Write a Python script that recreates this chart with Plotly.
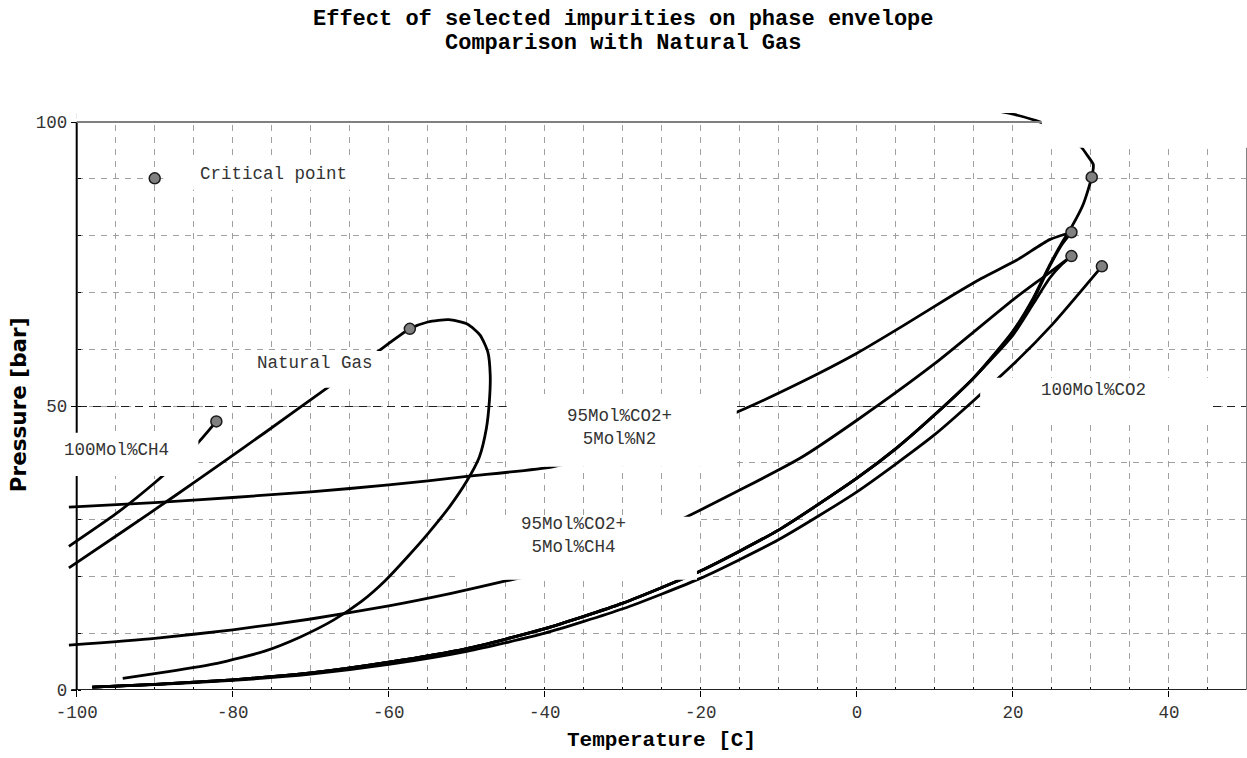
import plotly.graph_objects as go

# ---------------- data ----------------
# Natural gas phase envelope (bubble line -> critical region -> dew line)
ng_T = [-94.1, -88.5, -82.0, -76.0, -71.4, -67.1, -63.5, -60.5, -57.5, -55.0, -52.2, -50.0, -48.4,
        -47.5, -47.1, -47.0, -47.3, -48.3, -49.9, -52.3, -55.0, -57.3,
        -62.0, -68.2, -75.9, -82.1, -87.4, -94.0, -101.0]
ng_P = [2.06, 3.2, 4.7, 6.8, 9.3, 12.3, 15.6, 19.2, 23.6, 27.5, 32.3, 36.8, 41.0,
        46.0, 51.0, 55.5, 59.5, 62.5, 64.4, 65.2, 64.8, 63.6,
        59.0, 52.9, 45.3, 39.3, 34.2, 28.0, 21.5]

# Pure methane vapour pressure curve
ch4_T = [-101.0, -95.0, -90.0, -85.0, -82.1]
ch4_P = [25.3, 31.0, 36.5, 42.7, 47.3]

# Pure CO2 vapour pressure curve
co2_T = [-98.0, -90.0, -80.0, -70.0, -60.0, -50.0, -40.0, -30.0, -20.0, -10.0, 0.0, 10.0, 20.0, 25.0, 31.4]
co2_P = [0.5, 0.95, 1.7, 2.8, 4.5, 6.8, 10.0, 14.3, 19.7, 26.5, 34.9, 45.0, 57.3, 64.3, 74.6]

# 95 mol% CO2 + 5 mol% N2
n2_bub_T = [-101.0, -90.0, -80.0, -70.0, -60.0, -50.0, -39.0, -30.0, -22.0, -15.6, -7.3, 0.0, 6.0, 11.9, 16.0, 20.5, 24.7, 27.5]
n2_bub_P = [32.2, 33.0, 33.9, 34.9, 36.1, 37.6, 39.3, 42.3, 45.5, 48.8, 54.1, 59.3, 64.2, 69.2, 72.5, 75.7, 79.3, 80.6]
n2_dew_T = [-98.0, -90.0, -80.0, -70.0, -60.0, -50.0, -40.0, -30.0, -20.0, -10.0, 0.0, 5.0, 10.0, 15.0, 20.0, 22.6, 24.7, 26.3, 27.5]
n2_dew_P = [0.5, 1.0, 1.8, 3.0, 4.9, 7.3, 10.8, 15.3, 21.0, 28.2, 37.3, 42.5, 48.5, 55.0, 63.0, 68.7, 74.6, 78.5, 80.6]

# 95 mol% CO2 + 5 mol% CH4
c4_bub_T = [-101.0, -90.0, -80.0, -70.0, -60.0, -52.0, -45.0, -42.3, -35.0, -28.0, -21.8, -7.3, 0.0, 10.0, 20.0, 24.0, 27.5]
c4_bub_P = [7.9, 9.1, 10.6, 12.5, 14.8, 17.0, 19.2, 20.0, 22.8, 26.5, 30.5, 40.8, 47.5, 57.5, 68.7, 72.8, 76.4]
c4_dew_T = [-98.0, -90.0, -80.0, -70.0, -60.0, -50.0, -40.0, -30.0, -20.0, -10.0, 0.0, 5.0, 10.0, 15.0, 20.0, 22.6, 24.7, 26.3, 27.5]
c4_dew_P = [0.5, 1.0, 1.8, 3.0, 4.9, 7.3, 10.8, 15.3, 21.0, 28.2, 37.3, 42.5, 48.5, 55.0, 62.5, 68.0, 72.5, 75.0, 76.4]

# 95 mol% CO2 + 5 mol% H2 (dew line up to the critical point and beyond the 100 bar frame)
h2_T = [-98.0, -90.0, -80.0, -70.0, -60.0, -50.0, -40.0, -30.0, -20.0, -10.0, 0.0, 5.0, 10.0, 15.0, 20.0, 22.6,
        24.7, 26.3, 27.5, 29.0, 30.1, 30.3, 29.6, 28.8, 26.0, 23.7, 20.3, 17.0, 14.0]
h2_P = [0.5, 1.0, 1.8, 3.0, 4.9, 7.3, 10.8, 15.3, 21.0, 28.2, 37.3, 42.5, 48.5, 55.0, 63.2, 69.0,
        74.8, 78.8, 81.5, 85.5, 90.3, 92.5, 94.0, 95.5, 98.5, 99.9, 101.3, 102.2, 102.8]

# Critical points (first one is the legend sample next to "Critical point")
crit_T = [-90.0, -82.1, -57.3, 27.5, 27.5, 30.1, 31.4]
crit_P = [90.1, 47.3, 63.6, 80.6, 76.4, 90.3, 74.6]

# Axis ticks
x_tick_vals = [-100, -80, -60, -40, -20, 0, 20, 40]
x_tick_text = ["-100", "-80", "-60", "-40", "-20", "0", "20", "40"]
y_tick_vals = [0, 50, 100]
y_tick_text = ["0", "50", "100"]

# Labels
title_lines = ["Effect of selected impurities on phase envelope", "Comparison with Natural Gas"]
x_title = "Temperature [C]"
y_title = "Pressure [bar]"
label_text = ["Critical point", "Natural Gas", "100Mol%CH4", "95Mol%CO2+<br>5Mol%N2",
              "95Mol%CO2+<br>5Mol%CH4", "100Mol%CO2", "95Mol%CO2+<br>5Mol%H2"]

# ---------------- layout geometry ----------------
W_FIG, H_FIG = 1247, 758
X_RANGE = [-101.5, 50]          # a little room left of -100 so curves can start at -101
Y_RANGE = [0, 101.6]            # a little room above 100 for the H2 envelope arc
M_L, M_R, M_T, M_B = 65.3, 0, 113, 68
PW = W_FIG - M_L - M_R
PH = H_FIG - M_T - M_B


def px_to_paper(px, py):
    return (px - M_L) / PW, (H_FIG - M_B - py) / PH


MONO = "Liberation Mono"
LINE = dict(color="black", width=2.8)

fig = go.Figure()
curves = [(ng_T, ng_P), (ch4_T, ch4_P), (n2_bub_T, n2_bub_P), (n2_dew_T, n2_dew_P),
          (c4_bub_T, c4_bub_P), (c4_dew_T, c4_dew_P), (h2_T, h2_P), (co2_T, co2_P)]
for T, P in curves:
    fig.add_trace(go.Scatter(x=T, y=P, mode="lines", line=dict(shape="spline", smoothing=0.6, **LINE),
                             showlegend=False, hoverinfo="skip"))

fig.add_trace(go.Scatter(x=crit_T, y=crit_P, mode="markers", cliponaxis=False, showlegend=False,
                         marker=dict(size=11, color="#808080", line=dict(color="#1a1a1a", width=1.5))))

grid_dash = "6px,6px"
y_axis_pos = (-100 - X_RANGE[0]) / (X_RANGE[1] - X_RANGE[0])
fig.update_layout(
    width=W_FIG, height=H_FIG,
    margin=dict(l=M_L, r=M_R, t=M_T, b=M_B),
    paper_bgcolor="white", plot_bgcolor="white",
    font=dict(family=MONO, size=17.5, color="#333333"),
    xaxis=dict(range=X_RANGE, tickmode="array", tickvals=x_tick_vals, ticktext=x_tick_text,
               ticks="outside", ticklen=6, tickcolor="black", tickwidth=1,
               showline=False, zeroline=False,
               showgrid=True, gridcolor="#a0a0a0", gridwidth=1, griddash=grid_dash,
               minor=dict(tick0=-100, dtick=5, ticks="inside", ticklen=3, tickcolor="black",
                          showgrid=True, gridcolor="#a0a0a0", gridwidth=1, griddash=grid_dash),
               tickfont=dict(family=MONO, size=17.5, color="#333333")),
    yaxis=dict(range=Y_RANGE, anchor="free", position=y_axis_pos,
               tickmode="array", tickvals=y_tick_vals, ticktext=y_tick_text,
               ticks="outside", ticklen=6, tickcolor="black", tickwidth=1,
               showline=False, zeroline=False,
               showgrid=True, gridcolor="#202020", gridwidth=1, griddash="8px,6px",
               minor=dict(tick0=0, dtick=10, ticks="inside", ticklen=3, tickcolor="black",
                          showgrid=True, gridcolor="#a0a0a0", gridwidth=1, griddash=grid_dash),
               tickfont=dict(family=MONO, size=17.5, color="#333333")),
)

# hide grid lines outside the -100..50 / 0..100 frame (drawn under the curves)
fig.add_shape(type="rect", xref="x", yref="y", x0=X_RANGE[0], x1=-100, y0=0, y1=Y_RANGE[1],
              fillcolor="white", line=dict(width=0), layer="between")
fig.add_shape(type="rect", xref="x", yref="y", x0=-100, x1=50, y0=100, y1=Y_RANGE[1],
              fillcolor="white", line=dict(width=0), layer="between")

# frame: black left/bottom axes, grey top/right
fig.add_shape(type="line", xref="x", yref="y", x0=-100.7, x1=50, y0=0, y1=0,
              line=dict(color="#222222", width=2), layer="above")
fig.add_shape(type="line", xref="x", yref="y", x0=-100, x1=-100, y0=0, y1=100,
              line=dict(color="black", width=2), layer="above")
fig.add_shape(type="line", xref="x", yref="y", x0=-100, x1=50, y0=100, y1=100,
              line=dict(color="#808080", width=2), layer="above")
fig.add_shape(type="line", xref="x", yref="y", x0=50, x1=50, y0=0, y1=100,
              line=dict(color="#808080", width=2), layer="above")

# white label boxes (data coordinates): x0, x1, y0, y1
boxes = [(-88.9, -60.3, 88.1, 93.4),    # Critical point
         (-79.1, -60.5, 53.2, 59.7),    # Natural Gas
         (-102.9, -84.4, 37.7, 45.3),   # 100Mol%CH4
         (-44.9, -15.4, 39.3, 52.1),    # CO2+N2
         (-50.9, -20.5, 19.4, 30.5),    # CO2+CH4
         (15.8, 45.5, 46.7, 55.0),      # 100Mol%CO2
         (23.7, 51.7, 95.5, 109.2)]     # CO2+H2
for x0, x1, y0, y1 in boxes:
    fig.add_shape(type="rect", xref="x", yref="y", x0=x0, x1=x1, y0=y0, y1=y1,
                  fillcolor="white", line=dict(width=0), layer="above")

# label texts: (x, y, xanchor)
label_pos = [(-84.5, 90.9, "left"), (-69.5, 57.6, "center"), (-94.9, 42.3, "center"),
             (-30.4, 46.3, "center"), (-36.3, 27.2, "center"), (30.3, 52.8, "center"),
             (38.3, 102.6, "center")]
for txt, (x, y, xa) in zip(label_text, label_pos):
    fig.add_annotation(x=x, y=y, xref="x", yref="y", text=txt, showarrow=False,
                       xanchor=xa, yanchor="middle", align="center",
                       font=dict(family=MONO, size=17.5, color="#333333"))

# chart title (two lines)
for txt, py in zip(title_lines, [19, 44]):
    tx, ty = px_to_paper(623.5, py)
    fig.add_annotation(x=tx, y=ty, xref="paper", yref="paper", text="<b>" + txt + "</b>",
                       showarrow=False, xanchor="center", yanchor="middle",
                       font=dict(family=MONO, size=22, color="black"))

# axis titles
ax, ay = px_to_paper(662, 740)
fig.add_annotation(x=ax, y=ay, xref="paper", yref="paper", text="<b>" + x_title + "</b>",
                   showarrow=False, xanchor="center", yanchor="middle",
                   font=dict(family=MONO, size=21, color="black"))
bx, by = px_to_paper(19.5, 405)
fig.add_annotation(x=bx, y=by, xref="paper", yref="paper", text="<b>" + y_title + "</b>",
                   showarrow=False, textangle=-90, xanchor="center", yanchor="middle",
                   font=dict(family="DejaVu Sans", size=21.5, color="black"))

fig.write_html("out.html")
